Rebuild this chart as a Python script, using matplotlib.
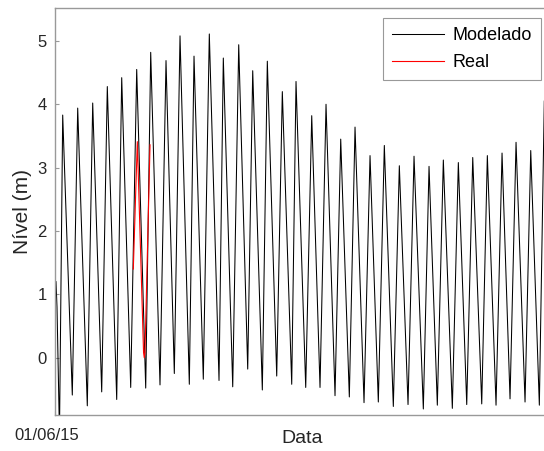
import matplotlib.pyplot as plt

plt.rcParams['font.family'] = ['Liberation Sans', 'DejaVu Sans']

# hours after 01/06/15 00:00 -> water level (m), turning points of the model run
model_hours = [0.85, 1.7, 3.8, 6.54, 14.69, 19.28, 27.43, 32.02, 39.66, 44.42,
               52.40, 56.65, 64.29, 69.38, 77.03, 81.27, 89.17, 94.27, 101.32, 106.16,
               114.06, 118.05, 125.94, 131.04, 139.28, 142.93, 150.92, 156.01, 163.65, 167.90,
               176.06, 180.30, 188.28, 193.04, 201.02, 204.67, 212.91, 218.01, 225.05, 230.15,
               237.79, 242.63, 249.94, 254.78, 262.42, 267.52, 274.56, 279.66, 287.30, 292.40,
               299.79, 304.88, 312.78, 317.62, 324.67, 329.77, 337.41, 342.51, 349.64, 354.74,
               362.38, 367.14, 374.52, 379.62, 386.41, 391.51, 399.15, 403.99, 411.30, 415.5]
model_level = [1.2, 0.8, -1.2, 3.83, -0.59, 3.94, -0.76, 4.02, -0.54, 4.28,
               -0.66, 4.42, -0.47, 4.55, -0.48, 4.82, -0.43, 4.69, -0.25, 5.08,
               -0.42, 4.76, -0.34, 5.11, -0.36, 4.73, -0.46, 4.94, -0.18, 4.53,
               -0.51, 4.68, -0.29, 4.20, -0.42, 4.36, -0.47, 3.82, -0.47, 4.00,
               -0.60, 3.45, -0.62, 3.64, -0.71, 3.19, -0.70, 3.35, -0.77, 3.03,
               -0.74, 3.18, -0.81, 3.02, -0.75, 3.12, -0.80, 3.08, -0.74, 3.16,
               -0.73, 3.19, -0.75, 3.23, -0.65, 3.40, -0.70, 3.27, -0.75, 4.05]

# measured level
real_hours = [66.5, 69.9, 75.2, 75.8, 76.4, 80.7]
real_level = [1.40, 3.41, 0.08, 0.0, 0.08, 3.36]

start_label = '01/06/15'

fig = plt.figure(figsize=(5.44, 4.51), dpi=100)
ax = fig.add_axes([55 / 544, 1 - 415 / 451, 494 / 544, 407 / 451])

ax.plot(model_hours, model_level, color='black', lw=0.75, label='Modelado')
ax.plot(real_hours, real_level, color='red', lw=0.8, label='Real')

ax.set_xlim(0, 419.5)
ax.set_ylim(-0.905, 5.52)
ax.set_yticks([0, 1, 2, 3, 4, 5])
ax.set_xticks([0])
ax.set_xticklabels([''])
# date label sits a little left of the first tick
ax.annotate(start_label, xy=(0, 0), xycoords=('data', 'axes fraction'),
            xytext=(-6.1, -9.2), textcoords='offset points',
            ha='center', va='top', fontsize=12, color='#262626')

ax.tick_params(direction='in', length=3, width=0.8, color='#999999',
               labelcolor='#262626', labelsize=12)
ax.tick_params(axis='y', pad=6)
for s in ax.spines.values():
    s.set_color('#999999')
    s.set_linewidth(1.0)

ax.set_xlabel('Data', fontsize=14, color='#262626')
ax.xaxis.set_label_coords(0.5, -0.036)
ax.set_ylabel('Nível (m)', fontsize=15, color='#262626')

leg = ax.legend(loc='upper left', bbox_to_anchor=(382.7 / 544, 1 - 18.3 / 451),
                bbox_transform=fig.transFigure, fontsize=13, frameon=True,
                fancybox=False, handlelength=2.9, handletextpad=0.45,
                borderpad=0.5, labelspacing=0.55, borderaxespad=0)
leg.get_frame().set_edgecolor('#808080')
leg.get_frame().set_linewidth(0.8)

fig.savefig('out.png', dpi=100)
